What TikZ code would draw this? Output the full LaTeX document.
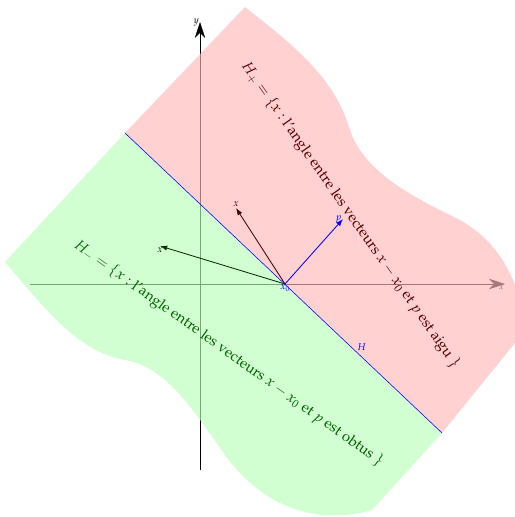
\documentclass[tikz,border=0pt]{standalone}
\usepackage{amsmath}
\usepackage[T1]{fontenc}
\usepackage{mathpazo}
\usetikzlibrary{arrows.meta}

\begin{document}
\begin{tikzpicture}[>={Latex[length=1.8mm,width=1.3mm]}, lbl/.style={font=\scriptsize, inner sep=1pt}]
\useasboundingbox (-5,-5.825) rectangle (7.875,7.1);
\clip (-5,-5.825) rectangle (7.875,7.1);

% axes
\coordinate (xmin) at (-4.25,0); \coordinate (xmax) at (7.625,0);
\coordinate (ymin) at (0,-4.65); \coordinate (ymax) at (0,6.55);
\draw[-{Stealth[length=4mm,width=2.6mm]}] (xmin)--(xmax); \node[lbl, below left, inner sep=0.5pt] (xlab) at (xmax) {$x$};
\draw[-{Stealth[length=4mm,width=2.6mm]}] (ymin)--(ymax); \node[lbl, left, inner sep=0.5pt] (ylab) at (ymax) {$y$};

% half planes
\coordinate (Htop) at (-1.875,3.775); \coordinate (Hbot) at (6.05,-3.725);
\fill[red!28, fill opacity=0.65] (Htop) -- (1.125,6.925) .. controls (2.5,5.85) and (3.375,5.1) .. (3.75,3.85)
  .. controls (4.125,2.725) and (5.5,2.1) .. (6.5,1.6) .. controls (7.375,1.1) and (7.875,0.35) .. (8.2,-1.075) -- (Hbot) -- cycle;
\fill[green!28, fill opacity=0.65] (Htop) -- (-4.875,0.55) .. controls (-3.75,-0.775) and (-3,-1.7) .. (-1.875,-1.9)
  .. controls (-0.875,-2.075) and (-0.25,-3.025) .. (0.625,-4.275) .. controls (1.625,-5.65) and (3,-6.025) .. (4.3,-5.65) -- (Hbot) -- cycle;

% hyperplane and vectors
\draw[blue] (Htop) -- (Hbot) node[lbl, pos=0.73, above right, inner sep=0.5pt] (Hlab) {$H$};
\coordinate (x0) at (2.125,0);
\coordinate (p) at (3.575,1.625);
\coordinate (xa) at (0.9,1.9);
\coordinate (xb) at (-1,0.95);
\draw[->, semithick, blue] (x0) -- (p); \node[lbl, blue, left] (plab) at (p) {$p$};
\draw[->, semithick, red!30!black] (x0) -- (xa); \node[lbl, red!30!black, above] (xalab) at (xa) {$x$};
\draw[->, semithick, green!20!black] (x0) -- (xb); \node[lbl, green!20!black, below] (xblab) at (xb) {$x$};
\node[lbl, blue, below, inner sep=0.5pt] (x0lab) at (x0) {$x_0$};

\node[red!35!black, rotate=-55, scale=1.05] (Hplus) at (3.76,1.72) {$H_+ = \{x :$ l'angle entre les vecteurs $x - x_0$ et $p$ est aigu $\}$};
\node[green!40!black, rotate=-35.6, scale=1.05] (Hminus) at (0.72,-1.74) {$H_- = \{x :$ l'angle entre les vecteurs $x - x_0$ et $p$ est obtus $\}$};

\end{tikzpicture}
\end{document}
